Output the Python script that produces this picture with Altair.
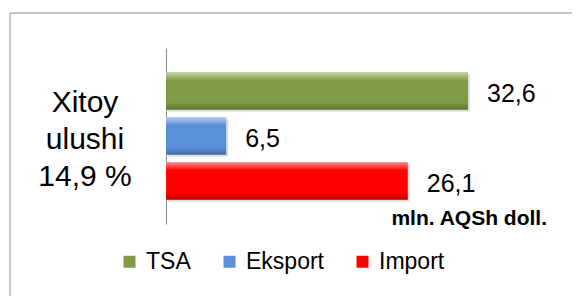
import altair as alt
import pandas as pd

# ---- data ----
categories = ["TSA", "Eksport", "Import"]
values = [32.6, 6.5, 26.1]
value_labels = ["32,6", "6,5", "26,1"]
bar_colors = ["#7f9c44", "#5a90da", "#ff0000"]
share_lines = ["Xitoy", "ulushi", "14,9 %"]
unit_note = "mln. AQSh doll."

FONT = "Liberation Sans"

df = pd.DataFrame({"cat": categories, "val": values, "lbl": value_labels})
note_df = pd.DataFrame({"note": [unit_note]})

x_enc = alt.X(
    "val:Q",
    scale=alt.Scale(domain=[0, max(values)], range=[156, 458], nice=False, zero=True),
    axis=None,
)
y_enc = alt.Y(
    "cat:N",
    sort=categories,
    scale=alt.Scale(range=[35, 211], paddingInner=0.167, paddingOuter=0.539),
    axis=alt.Axis(
        labels=False, ticks=False, title=None, grid=False,
        domain=True, domainColor="#8c8c8c", domainWidth=1, offset=-156,
    ),
)

base = alt.Chart(df)

frame = alt.Chart(note_df).mark_rect(
    stroke="#8c8c8c", strokeWidth=1, fillOpacity=0
).encode(x=alt.value(0), x2=alt.value(900), y=alt.value(0), y2=alt.value(900))

shadow = base.mark_bar(color="black", opacity=0.13, xOffset=2, yOffset=2).encode(
    x=x_enc, y=y_enc
)

bars = base.mark_bar().encode(
    x=x_enc,
    y=y_enc,
    color=alt.Color(
        "cat:N",
        sort=categories,
        scale=alt.Scale(domain=categories, range=bar_colors),
        legend=alt.Legend(
            orient="none", legendX=108, legendY=237, direction="horizontal",
            columns=3, title=None, symbolType="square", symbolSize=144,
            symbolStrokeWidth=0, labelFontSize=23, labelFont=FONT,
            labelColor="black", labelOffset=5, columnPadding=27, padding=0,
        ),
    ),
)

gloss = base.mark_bar(
    color=alt.LinearGradient(
        gradient="linear",
        stops=[
            alt.GradientStop(color="rgba(255,255,255,0.55)", offset=0),
            alt.GradientStop(color="rgba(255,255,255,0.0)", offset=0.22),
            alt.GradientStop(color="rgba(0,0,0,0.0)", offset=0.8),
            alt.GradientStop(color="rgba(0,0,0,0.25)", offset=1),
        ],
        x1=0, x2=0, y1=0, y2=1,
    )
).encode(x=x_enc, y=y_enc)

labels = base.mark_text(
    align="left", baseline="middle", dx=19, dy=3, fontSize=25, font=FONT, color="black"
).encode(x=x_enc, y=y_enc, text="lbl:N")

share = alt.Chart(note_df).mark_text(
    text=share_lines, fontSize=30, lineHeight=37, font=FONT,
    align="center", baseline="middle", color="black",
).encode(x=alt.value(75), y=alt.value(90))

unit = alt.Chart(note_df).mark_text(
    fontSize=21, fontWeight="bold", align="right", baseline="middle", font=FONT, color="black"
).encode(x=alt.value(537), y=alt.value(206), text="note:N")

chart = alt.layer(frame, shadow, bars, gloss, labels, share, unit).properties(
    width=562,
    height=283,
    padding={"left": 2, "top": 5, "right": 0, "bottom": 0},
    autosize=alt.AutoSizeParams(type="none"),
).configure_view(stroke="transparent")

chart.save("out.html", embed_options={"renderer": "svg", "actions": False})
